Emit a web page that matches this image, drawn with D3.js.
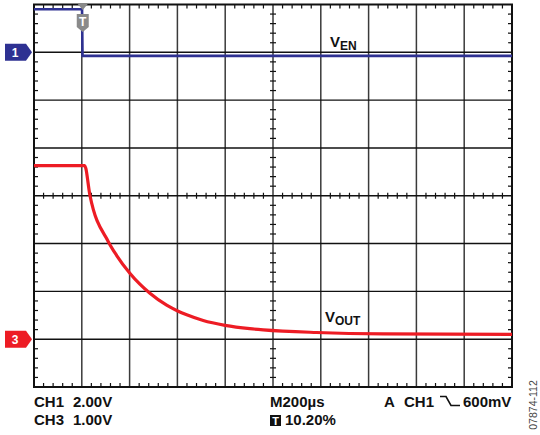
<!DOCTYPE html>
<html>
<head>
<meta charset="utf-8">
<script src="https://cdn.jsdelivr.net/npm/d3@7"></script>
<style>
  body { margin: 0; background: #fff; }
  svg { display: block; font-family: 'Liberation Sans', Arial, sans-serif; }
</style>
</head>
<body>
<svg id="scope" width="540" height="435"></svg>
<script>
// time axis in microseconds, 200us/div, trigger at 10.20%
const timeDomain = [-204, 1796];

// CH1 (V_EN), volts, 2.00V/div
const venTime = [-204, -3, -1, 1796];
const venVolts = [1.8, 1.8, -0.15, -0.15];

// CH3 (V_OUT), volts, 1.00V/div
const voutTime = [-204, 8, 30, 107, 142, 197, 239, 281, 351, 397, 435, 504, 595, 699, 755, 978, 1257, 1796];
const voutVolts = [3.63, 3.63, 3.01, 2.04, 1.75, 1.38, 1.15, 0.96, 0.71, 0.59, 0.51, 0.39, 0.29, 0.22, 0.195, 0.14, 0.11, 0.10];

const bottomLabels = [
  { text: 'CH1', x: 34, y: 407 },
  { text: '2.00V', x: 73, y: 407 },
  { text: 'CH3', x: 34, y: 425 },
  { text: '1.00V', x: 73, y: 425 },
  { text: 'M200µs', x: 270, y: 407 },
  { text: 'A', x: 384, y: 407 },
  { text: 'CH1', x: 404, y: 407 },
  { text: '600mV', x: 463, y: 407 },
  { text: '10.20%', x: 285, y: 425 },
];

const blue = '#2e3192';
const red = '#ed1c24';

const svg = d3.select('#scope');
const plot = { left: 34, right: 512, top: 4.5, bottom: 387 };

const x = d3.scaleLinear().domain(timeDomain).range([plot.left, plot.right]);
// vertical divisions, centre line = 0
const yDiv = d3.scaleLinear().domain([-4, 4]).range([plot.bottom, plot.top]);
const ch1 = v => yDiv(3 + v / 2);
const ch3 = v => yDiv(-3 + v / 1);

const xDivs = d3.range(0, 11).map(i => plot.left + (i * (plot.right - plot.left)) / 10);
const yDivs = d3.range(-4, 5);

const grid = svg.append('g');

// major grid
grid.selectAll('.vline')
  .data(xDivs.slice(1, -1))
  .enter().append('line')
  .attr('x1', d => d).attr('x2', d => d)
  .attr('y1', plot.top).attr('y2', plot.bottom)
  .attr('stroke', '#3a3a3a')
  .attr('stroke-width', 1.5);

grid.selectAll('.hline')
  .data(yDivs.slice(1, -1))
  .enter().append('line')
  .attr('x1', plot.left).attr('x2', plot.right)
  .attr('y1', d => yDiv(d)).attr('y2', d => yDiv(d))
  .attr('stroke', '#111')
  .attr('stroke-width', 1.4);

// minor ticks, 5 per division
const xMinor = d3.range(0, 51).filter(i => i % 5 !== 0)
  .map(i => plot.left + (i * (plot.right - plot.left)) / 50);
const yMinor = d3.range(-20, 21).filter(i => i % 5 !== 0).map(i => yDiv(i / 5));
const xMid = xDivs[5];
const yMid = yDiv(0);

const ticks = [];
xMinor.forEach(px => {
  ticks.push([px, plot.top, px, plot.top + 4]);
  ticks.push([px, plot.bottom, px, plot.bottom - 4]);
  ticks.push([px, yMid - 3, px, yMid + 3]);
});
yMinor.forEach(py => {
  ticks.push([plot.left, py, plot.left + 4, py]);
  ticks.push([plot.right, py, plot.right - 4, py]);
  ticks.push([xMid - 3, py, xMid + 3, py]);
});

grid.selectAll('.tick')
  .data(ticks)
  .enter().append('line')
  .attr('x1', d => d[0]).attr('y1', d => d[1])
  .attr('x2', d => d[2]).attr('y2', d => d[3])
  .attr('stroke', '#111')
  .attr('stroke-width', 1.2);

// frame
grid.append('rect')
  .attr('x', plot.left).attr('y', plot.top)
  .attr('width', plot.right - plot.left)
  .attr('height', plot.bottom - plot.top)
  .attr('fill', 'none')
  .attr('stroke', '#111')
  .attr('stroke-width', 2);

// traces
const venLine = d3.line()
  .x((d, i) => x(venTime[i]))
  .y(d => ch1(d));

svg.append('path')
  .attr('d', venLine(venVolts))
  .attr('fill', 'none')
  .attr('stroke', blue)
  .attr('stroke-width', 2.6);

const voutLine = d3.line()
  .x((d, i) => x(voutTime[i]))
  .y(d => ch3(d))
  .curve(d3.curveMonotoneX);

svg.append('path')
  .attr('d', voutLine(voutVolts))
  .attr('fill', 'none')
  .attr('stroke', red)
  .attr('stroke-width', 3.2);

// channel markers
function channelMarker(label, py, color) {
  const g = svg.append('g').attr('transform', `translate(0,${py})`);
  g.append('path')
    .attr('d', 'M5,-8.5 L26,-8.5 L32,0 L26,8.5 L5,8.5 Z')
    .attr('fill', color);
  g.append('text')
    .attr('x', 15).attr('y', 4.5)
    .attr('text-anchor', 'middle')
    .attr('fill', '#fff')
    .style('font-size', '12px')
    .style('font-weight', 'bold')
    .text(label);
}
channelMarker('1', ch1(0), blue);
channelMarker('3', ch3(0), red);

// trigger marker
const tx = x(0);
svg.append('path')
  .attr('d', `M${tx - 5},4 L${tx + 5},4 L${tx},10 Z`)
  .attr('fill', '#8a8a8a');
svg.append('path')
  .attr('d', `M${tx - 6},14 L${tx + 6},14 L${tx + 6},27 L${tx},32 L${tx - 6},27 Z`)
  .attr('fill', '#8a8a8a');
svg.append('text')
  .attr('x', tx).attr('y', 26)
  .attr('text-anchor', 'middle')
  .attr('fill', '#fff')
  .style('font-size', '12px')
  .style('font-weight', 'bold')
  .text('T');

// trace labels
function traceLabel(px, py, sub) {
  const t = svg.append('text')
    .attr('x', px).attr('y', py)
    .attr('fill', '#111')
    .style('font-weight', 'bold')
    .style('font-size', '15px');
  t.append('tspan').text('V');
  t.append('tspan')
    .attr('dy', 3)
    .style('font-size', '12px')
    .text(sub);
}
traceLabel(330, 47, 'EN');
traceLabel(325, 322, 'OUT');

// readout text
svg.selectAll('.readout')
  .data(bottomLabels)
  .enter().append('text')
  .attr('x', d => d.x).attr('y', d => d.y)
  .attr('fill', '#111')
  .style('font-size', '15px')
  .style('font-weight', 'bold')
  .text(d => d.text);

// falling edge symbol
svg.append('path')
  .attr('d', 'M440,396.5 L446,396.5 L451,405.5 L460,405.5')
  .attr('fill', 'none')
  .attr('stroke', '#111')
  .attr('stroke-width', 1.6);

// trigger position box
svg.append('rect')
  .attr('x', 270).attr('y', 415)
  .attr('width', 11).attr('height', 11)
  .attr('fill', '#111');
svg.append('text')
  .attr('x', 275.5).attr('y', 424.5)
  .attr('text-anchor', 'middle')
  .attr('fill', '#fff')
  .style('font-size', '11px')
  .style('font-weight', 'bold')
  .text('T');

// figure number
svg.append('text')
  .attr('transform', 'translate(537,405)rotate(-90)')
  .attr('text-anchor', 'middle')
  .attr('fill', '#444')
  .style('font-size', '10.5px')
  .text('07874-112');
</script>
</body>
</html>
